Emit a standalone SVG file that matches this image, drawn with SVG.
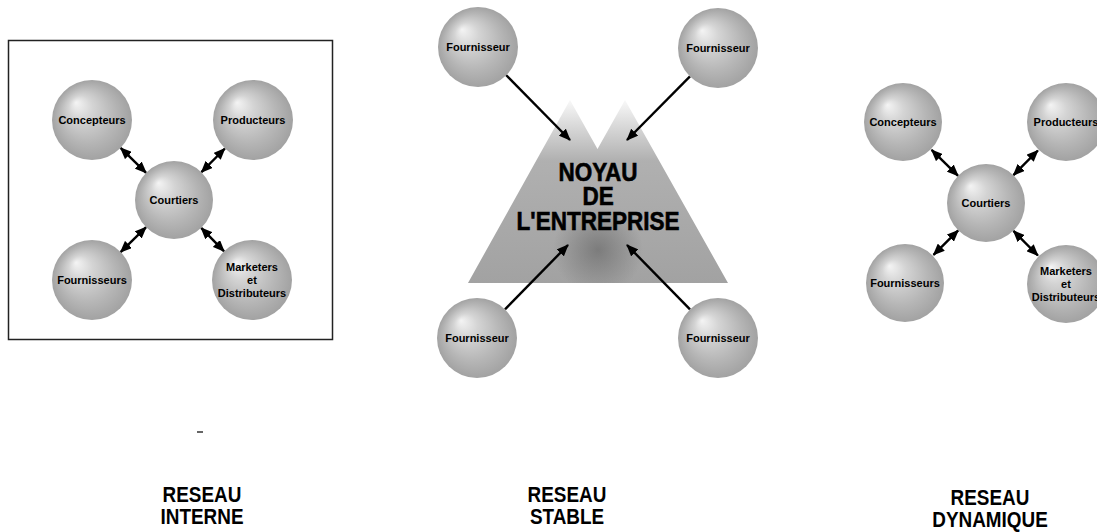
<svg xmlns="http://www.w3.org/2000/svg" width="1097" height="532" viewBox="0 0 1097 532">
  <style>
    .ball { fill: url(#sphere); }
    .lbl { font-family: "Liberation Sans", Arial, sans-serif; font-weight: bold; font-size: 11px; fill: #000; text-anchor: middle; }
    .cap { font-family: "Liberation Sans", Arial, sans-serif; font-weight: bold; font-size: 22px; fill: #000; text-anchor: middle; }
    .core { font-family: "Liberation Sans", Arial, sans-serif; font-weight: bold; font-size: 25px; fill: #000; stroke: #000; stroke-width: 0.6; text-anchor: middle; }
    .link { stroke: #000; stroke-width: 2.4; fill: none; }
    .two { marker-start: url(#head); marker-end: url(#head); }
    .one { marker-end: url(#head); }
  </style>
  <defs>
    <radialGradient id="sphere" cx="0.5" cy="0.5" r="0.5" fx="0.3" fy="0.28">
      <stop offset="0" stop-color="#f4f4f4"/>
      <stop offset="0.3" stop-color="#d4d4d4"/>
      <stop offset="0.7" stop-color="#b6b6b6"/>
      <stop offset="1" stop-color="#a2a2a2"/>
    </radialGradient>
    <linearGradient id="mountain" x1="0" y1="95" x2="0" y2="283" gradientUnits="userSpaceOnUse">
      <stop offset="0" stop-color="#ffffff"/>
      <stop offset="0.15" stop-color="#dcdcdc"/>
      <stop offset="0.35" stop-color="#b0b0b0"/>
      <stop offset="1" stop-color="#a2a2a2"/>
    </linearGradient>
    <radialGradient id="shade" cx="598" cy="250" r="45" gradientUnits="userSpaceOnUse">
      <stop offset="0" stop-color="#6a6a6a" stop-opacity="0.7"/>
      <stop offset="1" stop-color="#6a6a6a" stop-opacity="0"/>
    </radialGradient>
    <marker id="head" viewBox="0 0 12 10" refX="11" refY="5" markerWidth="12" markerHeight="10" markerUnits="userSpaceOnUse" orient="auto-start-reverse">
      <path d="M0,0 L12,5 L0,10 z" fill="#000"/>
    </marker>
  </defs>

  <rect width="1097" height="532" fill="#fff"/>

  <!-- left panel frame -->
  <rect id="frame-interne" x="8.5" y="40.5" width="324" height="299" fill="none" stroke="#222" stroke-width="1.5"/>
  <line x1="197" y1="432" x2="203" y2="432" stroke="#333" stroke-width="1.5"/>

  <!-- central mountain -->
  <g id="noyau">
    <path d="M468,283 L570,100 L597.5,149 L625,100 L728,283 Z" fill="url(#mountain)"/>
    <path d="M468,283 L570,100 L597.5,149 L625,100 L728,283 Z" fill="url(#shade)"/>
    <g transform="translate(598,0) scale(0.9,1)">
      <text class="core" x="0" y="181">NOYAU</text>
      <text class="core" x="0" y="205">DE</text>
      <text class="core" x="0" y="230">L'ENTREPRISE</text>
    </g>
  </g>

  <!-- connectors -->
  <g id="connectors">
    <!-- internal network -->
    <line class="link two" x1="120.6" y1="147.9" x2="146.1" y2="172.8"/>
    <line class="link two" x1="224.9" y1="148.5" x2="201.4" y2="172.2"/>
    <line class="link two" x1="120.6" y1="252.1" x2="146.1" y2="227.2"/>
    <line class="link two" x1="224.1" y1="251.4" x2="201.2" y2="227.9"/>
    <!-- stable network -->
    <line class="link one" x1="506" y1="75" x2="570" y2="140"/>
    <line class="link one" x1="690" y1="76.4" x2="627" y2="140"/>
    <line class="link one" x1="505" y1="309.4" x2="568" y2="245"/>
    <line class="link one" x1="690" y1="309.4" x2="627" y2="245"/>
    <!-- dynamic network -->
    <line class="link two" x1="931.6" y1="149.9" x2="958.1" y2="175.8"/>
    <line class="link two" x1="1037.9" y1="150.5" x2="1013.4" y2="175.2"/>
    <line class="link two" x1="933.5" y1="254.9" x2="958.2" y2="230.4"/>
    <line class="link two" x1="1037.9" y1="255.5" x2="1013.4" y2="230.8"/>
  </g>

  <!-- internal network nodes -->
  <g id="int-concepteurs"><circle class="ball" cx="92" cy="120" r="40"/><text class="lbl" x="92" y="124">Concepteurs</text></g>
  <g id="int-producteurs"><circle class="ball" cx="253" cy="120" r="40"/><text class="lbl" x="253" y="124">Producteurs</text></g>
  <g id="int-courtiers"><circle class="ball" cx="174" cy="200" r="39"/><text class="lbl" x="174" y="204">Courtiers</text></g>
  <g id="int-fournisseurs"><circle class="ball" cx="92" cy="280" r="40"/><text class="lbl" x="92" y="284">Fournisseurs</text></g>
  <g id="int-marketers"><circle class="ball" cx="252" cy="280" r="40"/>
    <text class="lbl" x="252" y="271">Marketers</text>
    <text class="lbl" x="252" y="284">et</text>
    <text class="lbl" x="252" y="297">Distributeurs</text>
  </g>

  <!-- stable network nodes -->
  <g id="st-fournisseur-nw"><circle class="ball" cx="478" cy="47" r="40"/><text class="lbl" x="478" y="51">Fournisseur</text></g>
  <g id="st-fournisseur-ne"><circle class="ball" cx="718" cy="48" r="40"/><text class="lbl" x="718" y="52">Fournisseur</text></g>
  <g id="st-fournisseur-sw"><circle class="ball" cx="477" cy="338" r="40"/><text class="lbl" x="477" y="342">Fournisseur</text></g>
  <g id="st-fournisseur-se"><circle class="ball" cx="718" cy="338" r="40"/><text class="lbl" x="718" y="342">Fournisseur</text></g>

  <!-- dynamic network nodes -->
  <g id="dyn-concepteurs"><circle class="ball" cx="903" cy="122" r="39"/><text class="lbl" x="903" y="126">Concepteurs</text></g>
  <g id="dyn-producteurs"><circle class="ball" cx="1066" cy="122" r="39"/><text class="lbl" x="1066" y="126">Producteurs</text></g>
  <g id="dyn-courtiers"><circle class="ball" cx="986" cy="203" r="39"/><text class="lbl" x="986" y="207">Courtiers</text></g>
  <g id="dyn-fournisseurs"><circle class="ball" cx="905" cy="283" r="39"/><text class="lbl" x="905" y="287">Fournisseurs</text></g>
  <g id="dyn-marketers"><circle class="ball" cx="1066" cy="284" r="39"/>
    <text class="lbl" x="1066" y="275">Marketers</text>
    <text class="lbl" x="1066" y="288">et</text>
    <text class="lbl" x="1066" y="301">Distributeurs</text>
  </g>

  <!-- captions (narrow bold lettering) -->
  <g id="cap-interne" transform="translate(202,0) scale(0.86,1)"><text class="cap" x="0" y="502">RESEAU</text><text class="cap" x="0" y="524">INTERNE</text></g>
  <g id="cap-stable" transform="translate(567,0) scale(0.86,1)"><text class="cap" x="0" y="502">RESEAU</text><text class="cap" x="0" y="524">STABLE</text></g>
  <g id="cap-dynamique" transform="translate(990,0) scale(0.86,1)"><text class="cap" x="0" y="505">RESEAU</text><text class="cap" x="0" y="527">DYNAMIQUE</text></g>
</svg>
